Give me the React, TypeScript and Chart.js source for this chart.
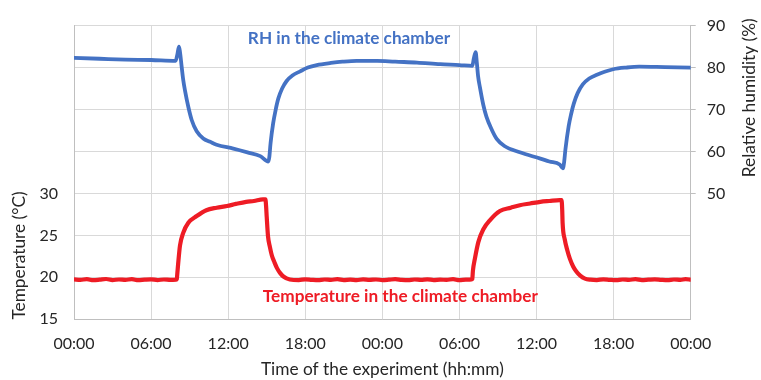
import React, { useEffect, useRef } from 'react';
import { Chart, registerables } from 'chart.js';

Chart.register(...registerables);

// Elapsed time of the experiment, in hours (0 = 00:00 on day one)
const xTickHours = [0, 6, 12, 18, 24, 30, 36, 42, 48];

// Relative humidity in the climate chamber (%)
const rhHours = [
  0, 2, 4, 6, 7.91, 8.05, 8.17, 8.25, 8.38, 8.5, 8.64, 8.9, 9.16, 9.55, 10.06,
  10.6, 11.1, 12.4, 13.5, 14.5, 15.12, 15.2, 15.3, 15.5, 15.7, 15.9, 16.2, 16.55,
  17.0, 17.6, 18.2, 18.9, 20.0, 20.9, 22.0, 23.6, 25.0, 26.7, 28.5, 30.0, 31.0,
  31.12, 31.26, 31.35, 31.45, 31.6, 31.85, 32.1, 32.5, 32.9, 33.5, 34.7, 36.3,
  37.0, 37.8, 38.05, 38.15, 38.25, 38.5, 38.7, 38.9, 39.2, 39.6, 40.1, 40.7,
  41.3, 41.97, 43.0, 44.0, 46.0, 48.0,
];
const rhValues = [
  82.3, 82.1, 81.9, 81.8, 81.6, 83.2, 85.0, 83.7, 80.2, 77.1, 74.5, 70.6, 67.5,
  64.8, 63.1, 62.3, 61.6, 60.7, 59.8, 58.9, 57.6, 58.6, 62.0, 66.7, 70.0, 72.6,
  75.0, 76.8, 78.1, 79.1, 80.0, 80.6, 81.1, 81.4, 81.6, 81.6, 81.4, 81.2, 80.8,
  80.6, 80.4, 82.2, 83.7, 81.3, 78.0, 75.2, 71.2, 68.3, 65.3, 63.0, 61.3, 59.8,
  58.3, 57.6, 56.9, 56.0, 57.5, 60.5, 66.0, 69.0, 71.4, 73.9, 76.0, 77.4, 78.3,
  79.0, 79.6, 80.0, 80.2, 80.1, 80.0,
];

// Temperature in the climate chamber (°C)
const tempHours = [
  0, 0.5, 1, 1.5, 2, 2.5, 3, 3.5, 4, 4.5, 5, 5.5, 6, 6.5, 7, 7.5, 7.95, 8.0,
  8.05, 8.1, 8.25, 8.5, 8.9, 9.55, 10.3, 11.1, 11.9, 12.6, 13.4, 14.0, 14.7,
  14.9, 14.95, 15.0, 15.1, 15.25, 15.4, 15.6, 15.8, 16.05, 16.3, 16.8, 17.5,
  18, 18.5, 19, 19.5, 20, 20.5, 21, 21.5, 22, 22.5, 23, 23.5, 24, 24.5, 25,
  25.5, 26, 26.5, 27, 27.5, 28, 28.5, 29, 29.5, 30, 30.5, 30.95, 31.0, 31.05,
  31.2, 31.47, 31.85, 32.4, 33.15, 34.0, 34.7, 35.5, 36.3, 37.0, 37.8, 37.95,
  38.0, 38.03, 38.2, 38.4, 38.6, 38.85, 39.1, 39.4, 39.77, 40.2, 40.7, 41.2,
  41.7, 42.2, 42.7, 43.2, 43.7, 44.2, 44.7, 45.2, 45.7, 46.2, 46.7, 47.2, 47.6,
  48.0,
];
const tempValues = [
  19.75, 19.7, 19.78, 19.66, 19.72, 19.8, 19.68, 19.74, 19.7, 19.78, 19.66,
  19.72, 19.76, 19.68, 19.74, 19.7, 19.72, 19.8, 20.6, 21.5, 23.8, 25.3, 26.5,
  27.3, 28.0, 28.3, 28.5, 28.75, 29.0, 29.1, 29.3, 29.3, 28.5, 27.2, 24.9, 23.6,
  22.6, 21.8, 21.1, 20.5, 20.1, 19.75, 19.68, 19.76, 19.7, 19.66, 19.74, 19.7,
  19.78, 19.68, 19.72, 19.66, 19.76, 19.7, 19.74, 19.68, 19.72, 19.78, 19.7,
  19.66, 19.74, 19.7, 19.76, 19.68, 19.72, 19.7, 19.78, 19.66, 19.72, 19.74,
  19.8, 20.8, 22.2, 24.2, 25.7, 26.85, 27.9, 28.3, 28.6, 28.8, 29.0, 29.1, 29.2,
  29.2, 28.0, 26.5, 24.5, 23.2, 22.2, 21.3, 20.7, 20.2, 19.85, 19.72, 19.68,
  19.76, 19.7, 19.66, 19.74, 19.7, 19.78, 19.68, 19.72, 19.76, 19.7, 19.66,
  19.74, 19.7, 19.78, 19.72, 19.75,
];

// Only part of each vertical axis is labelled
const tempTickLabels = [15, 20, 25, 30];
const rhTickLabels = [50, 60, 70, 80, 90];

const BLUE = '#4472C4';
const RED = '#EE1C25';
const TEXT = '#262626';
const GRID = '#d9d9d9';
const AXIS = '#bfbfbf';
const FONT = 'Lato';

const hhmm = (h: number) => `${String(h % 24).padStart(2, '0')}:00`;

// Axis titles and series captions drawn on the canvas
const captionsPlugin = {
  id: 'captions',
  afterDraw(chart: any) {
    const { ctx, chartArea, scales } = chart;
    const x = scales.x;
    const yT = scales.yTemp;
    const yR = scales.yRH;
    ctx.save();
    ctx.textAlign = 'center';
    ctx.textBaseline = 'middle';
    ctx.fillStyle = TEXT;
    ctx.font = `17.3px ${FONT}`;
    ctx.fillText('Time of the experiment (hh:mm)', (chartArea.left + chartArea.right) / 2, 369);

    ctx.save();
    ctx.translate(19.5, yT.getPixelForValue(22.6));
    ctx.rotate(-Math.PI / 2);
    ctx.fillText('Temperature (°C)', 0, 0);
    ctx.restore();

    ctx.save();
    ctx.translate(749, yR.getPixelForValue(72.8));
    ctx.rotate(-Math.PI / 2);
    ctx.fillText('Relative humidity (%)', 0, 0);
    ctx.restore();

    ctx.font = `bold 17.2px ${FONT}`;
    ctx.fillStyle = BLUE;
    ctx.fillText('RH in the climate chamber', x.getPixelForValue(21.4), yR.getPixelForValue(87));
    ctx.fillStyle = RED;
    ctx.fillText('Temperature in the climate chamber', x.getPixelForValue(25.4), yT.getPixelForValue(17.7));
    ctx.restore();
  },
};

export default function App() {
  const canvasRef = useRef<HTMLCanvasElement | null>(null);

  useEffect(() => {
    const canvas = canvasRef.current;
    if (!canvas) return;
    const chart = new Chart(canvas, {
      type: 'line',
      data: {
        datasets: [
          {
            label: 'RH in the climate chamber',
            data: rhHours.map((h, i) => ({ x: h, y: rhValues[i] })),
            yAxisID: 'yRH',
            borderColor: BLUE,
            borderWidth: 3.8,
            pointRadius: 0,
            cubicInterpolationMode: 'monotone',
            borderJoinStyle: 'round',
            borderCapStyle: 'round',
          },
          {
            label: 'Temperature in the climate chamber',
            data: tempHours.map((h, i) => ({ x: h, y: tempValues[i] })),
            yAxisID: 'yTemp',
            borderColor: RED,
            borderWidth: 4.2,
            pointRadius: 0,
            cubicInterpolationMode: 'monotone',
            borderJoinStyle: 'round',
            borderCapStyle: 'round',
          },
        ],
      },
      options: {
        responsive: false,
        animation: false,
        devicePixelRatio: 1,
        layout: { padding: { top: 16, left: 0, right: 0, bottom: 0 } },
        plugins: {
          legend: { display: false },
          tooltip: { enabled: false },
        },
        scales: {
          x: {
            type: 'linear',
            min: 0,
            max: 48,
            afterBuildTicks: (s: any) => {
              s.ticks = xTickHours.map((v) => ({ value: v }));
            },
            afterFit: (s: any) => {
              s.height = 60.7;
            },
            ticks: {
              callback: (v: any) => hhmm(Number(v)),
              font: { family: FONT, size: 16 },
              color: TEXT,
              padding: 15,
              maxRotation: 0,
              autoSkip: false,
            },
            grid: { color: GRID, drawTicks: false },
            border: { color: AXIS },
          },
          yTemp: {
            type: 'linear',
            position: 'left',
            min: 15,
            max: 50,
            afterFit: (s: any) => {
              s.width = 74;
            },
            ticks: {
              stepSize: 5,
              callback: (v: any) => (tempTickLabels.includes(Number(v)) ? String(v) : ''),
              font: { family: FONT, size: 16 },
              color: TEXT,
              padding: 16,
            },
            grid: { color: GRID, drawTicks: false },
            border: { color: AXIS },
          },
          yRH: {
            type: 'linear',
            position: 'right',
            min: 20,
            max: 90,
            afterFit: (s: any) => {
              s.width = 70.3;
            },
            ticks: {
              stepSize: 10,
              callback: (v: any) => (rhTickLabels.includes(Number(v)) ? String(v) : ''),
              font: { family: FONT, size: 16 },
              color: TEXT,
              padding: 11,
            },
            grid: {
              drawOnChartArea: false,
              drawTicks: true,
              tickLength: 5,
              color: (c: any) =>
                c.tick && rhTickLabels.includes(c.tick.value) ? AXIS : 'rgba(0,0,0,0)',
            },
            border: { color: AXIS },
          },
        },
      },
      plugins: [captionsPlugin],
    } as any);
    return () => chart.destroy();
  }, []);

  return (
    <div style={{ position: 'absolute', left: 0, top: 0, width: 761, height: 380, background: '#fff' }}>
      <canvas ref={canvasRef} width={761} height={380} style={{ width: 761, height: 380 }} />
    </div>
  );
}
